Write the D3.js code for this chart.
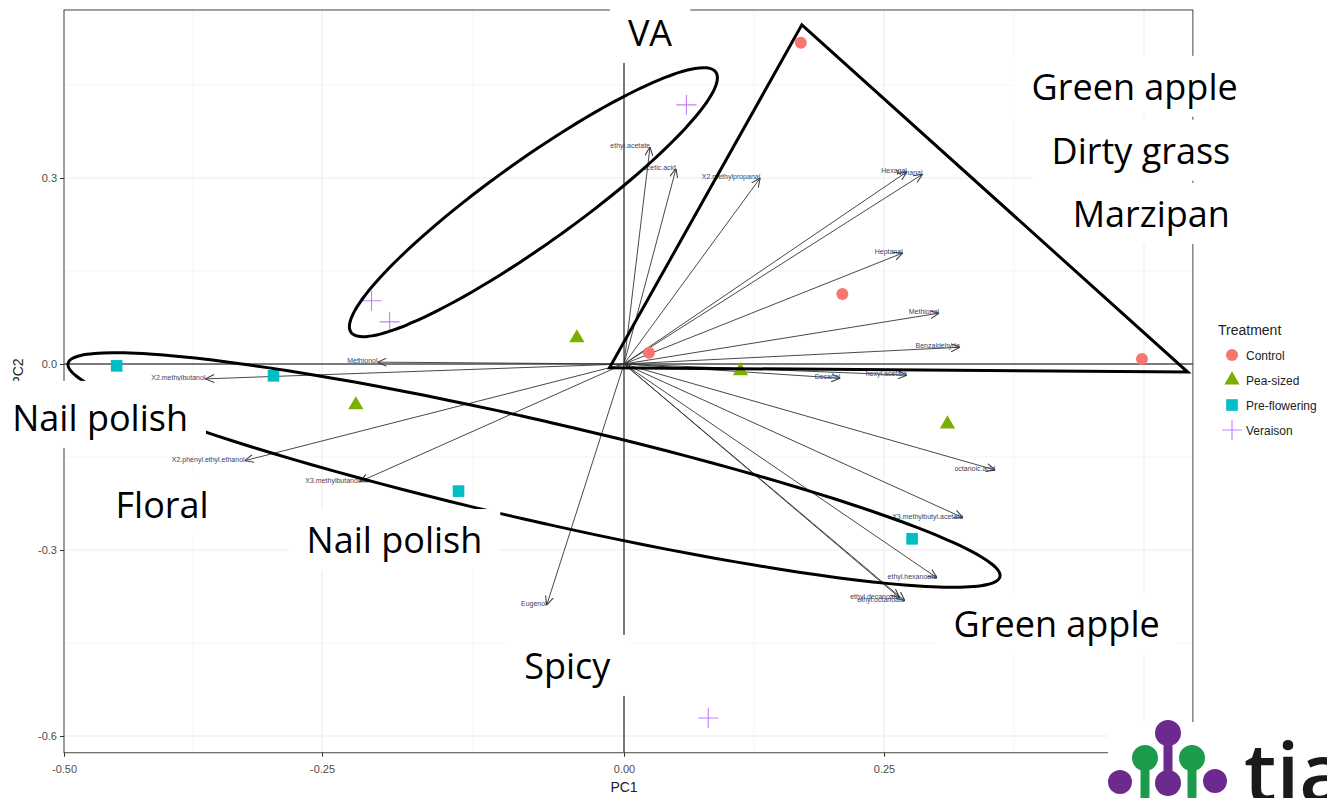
<!DOCTYPE html>
<html>
<head>
<meta charset="utf-8">
<script src="https://cdn.jsdelivr.net/npm/d3@7"></script>
<style>
body { margin: 0; background: #fff; }
svg { display: block; }
</style>
</head>
<body>
<div id="chart"></div>
<script>
// loadings (arrows)
var loadingNames = ["ethyl.acetate", "acetic.acid", "X2.methylpropanal", "Hexanal", "Nonanal",
    "Heptanal", "Methional", "Benzaldehyde", "hexyl.acetate", "Decanal", "octanoic.acid",
    "X3.methylbutyl.acetate", "ethyl.hexanoate", "ethyl.decanoate", "ethyl.octanoate",
    "Methionol", "X2.methylbutanol", "X2.phenyl.ethyl.ethanol", "X3.methylbutanol", "Eugenol"];
var loadingPC1 = [0.025, 0.050, 0.131, 0.272, 0.287, 0.268, 0.303, 0.323, 0.272, 0.208, 0.357,
    0.326, 0.301, 0.265, 0.270, -0.204, -0.363, -0.325, -0.219, -0.064];
var loadingPC2 = [0.350, 0.315, 0.300, 0.310, 0.306, 0.179, 0.082, 0.027, -0.018, -0.023, -0.171,
    -0.248, -0.345, -0.377, -0.382, 0.003, -0.024, -0.156, -0.190, -0.389];

// samples (scores)
var treatments = ["Control", "Pea-sized", "Pre-flowering", "Veraison"];
var sampleTreatment = ["Control", "Control", "Control", "Control",
    "Pea-sized", "Pea-sized", "Pea-sized", "Pea-sized",
    "Pre-flowering", "Pre-flowering", "Pre-flowering", "Pre-flowering",
    "Veraison", "Veraison", "Veraison", "Veraison"];
var samplePC1 = [0.170, 0.210, 0.024, 0.498, -0.039, 0.112, -0.222, 0.311,
    -0.449, -0.297, -0.137, 0.277, 0.060, -0.209, -0.194, 0.081];
var samplePC2 = [0.518, 0.113, 0.018, 0.008, 0.042, -0.011, -0.066, -0.097,
    -0.003, -0.019, -0.205, -0.282, 0.418, 0.102, 0.068, -0.571];

// axis ticks
var xTicks = [-0.5, -0.25, 0, 0.25, 0.5];
var xTickLabels = ["-0.50", "-0.25", "0.00", "0.25", "0.50"];
var xMinor = [-0.375, -0.125, 0.125, 0.375];
var yTicks = [-0.6, -0.3, 0, 0.3];
var yTickLabels = ["-0.6", "-0.3", "0.0", "0.3"];
var yMinor = [-0.45, -0.15, 0.15, 0.45];

// slide annotations
var noteText = ["VA", "Green apple", "Dirty grass", "Marzipan", "Nail polish", "Floral",
    "Nail polish", "Green apple", "Spicy"];
var notePC1 = [0.025, 0.491, 0.497, 0.507, -0.465, -0.405, -0.190, 0.416, -0.047];
var notePC2 = [0.534, 0.447, 0.344, 0.242, -0.087, -0.227, -0.284, -0.419, -0.487];
var trianglePC1 = [0.171, 0.542, -0.012];
var trianglePC2 = [0.547, -0.013, -0.006];

var colors = ["#F8766D", "#7CAE00", "#00BFC4", "#C77CFF"];

var svgWidth = 1327;
var svgHeight = 798;

// x axis of the slide is not evenly spaced, so map each break
var xScale = d3.scaleLinear()
    .domain(xTicks)
    .range([64, 322, 624, 884, 1144]);

var yScale = d3.scaleLinear()
    .domain([-0.6, 0.3])
    .range([736, 178]);

var colorScale = d3.scaleOrdinal().domain(treatments).range(colors);

var panel = { left: xScale(-0.5), right: xScale(0.547), top: yScale(0.571), bottom: yScale(-0.627) };

var svg = d3.select("#chart").append("svg")
    .attr("width", svgWidth)
    .attr("height", svgHeight)
    .style("font-family", "'Liberation Sans', Arial, sans-serif");

svg.append("defs").append("marker")
    .attr("id", "arrow")
    .attr("viewBox", "0 -5 10 10")
    .attr("refX", 10)
    .attr("refY", 0)
    .attr("markerWidth", 9)
    .attr("markerHeight", 9)
    .attr("markerUnits", "userSpaceOnUse")
    .attr("orient", "auto")
    .append("path")
    .attr("d", "M0,-4.5L10,0L0,4.5")
    .attr("fill", "none")
    .attr("stroke", "#333")
    .attr("stroke-width", 1.1);

// grid
svg.append("g").selectAll("line").data(xMinor).enter().append("line")
    .attr("x1", d => xScale(d)).attr("x2", d => xScale(d))
    .attr("y1", panel.top).attr("y2", panel.bottom)
    .attr("stroke", "#f2f2f2").attr("stroke-width", 0.8);
svg.append("g").selectAll("line").data(yMinor).enter().append("line")
    .attr("y1", d => yScale(d)).attr("y2", d => yScale(d))
    .attr("x1", panel.left).attr("x2", panel.right)
    .attr("stroke", "#f2f2f2").attr("stroke-width", 0.8);
svg.append("g").selectAll("line").data(xTicks).enter().append("line")
    .attr("x1", d => xScale(d)).attr("x2", d => xScale(d))
    .attr("y1", panel.top).attr("y2", panel.bottom)
    .attr("stroke", "#ebebeb").attr("stroke-width", 1.1);
svg.append("g").selectAll("line").data(yTicks).enter().append("line")
    .attr("y1", d => yScale(d)).attr("y2", d => yScale(d))
    .attr("x1", panel.left).attr("x2", panel.right)
    .attr("stroke", "#ebebeb").attr("stroke-width", 1.1);

// zero lines
svg.append("line")
    .attr("x1", xScale(0)).attr("x2", xScale(0))
    .attr("y1", panel.top).attr("y2", panel.bottom)
    .attr("stroke", "#000").attr("stroke-width", 1);
svg.append("line")
    .attr("x1", panel.left).attr("x2", panel.right)
    .attr("y1", yScale(0)).attr("y2", yScale(0))
    .attr("stroke", "#000").attr("stroke-width", 1);

// panel border
svg.append("rect")
    .attr("x", panel.left).attr("y", panel.top)
    .attr("width", panel.right - panel.left).attr("height", panel.bottom - panel.top)
    .attr("fill", "none").attr("stroke", "#444").attr("stroke-width", 1);

// axes
var xAxis = d3.axisBottom(xScale).tickValues(xTicks)
    .tickFormat((d, i) => xTickLabels[i]).tickSize(4).tickSizeOuter(0);
var yAxis = d3.axisLeft(yScale).tickValues(yTicks)
    .tickFormat((d, i) => yTickLabels[i]).tickSize(4).tickSizeOuter(0);

var gx = svg.append("g")
    .attr("transform", "translate(0," + panel.bottom + ")")
    .call(xAxis);
var gy = svg.append("g")
    .attr("transform", "translate(" + panel.left + ",0)")
    .call(yAxis);
[gx, gy].forEach(g => {
    g.select(".domain").remove();
    g.selectAll(".tick line").attr("stroke", "#333");
    g.selectAll(".tick text").attr("fill", "#4d4d4d").attr("font-size", "11px")
        .attr("font-family", "'Liberation Sans', Arial, sans-serif");
});
gx.selectAll(".tick text").attr("dy", "1.2em");

svg.append("text")
    .attr("x", xScale(0)).attr("y", 792)
    .attr("text-anchor", "middle").attr("font-size", "14px").attr("fill", "#222")
    .text("PC1");
svg.append("text")
    .attr("transform", "translate(23,372) rotate(-90)")
    .attr("text-anchor", "middle").attr("font-size", "14px").attr("fill", "#222")
    .text("PC2");

// arrows
var arrows = svg.append("g");
loadingNames.forEach((name, i) => {
    arrows.append("line")
        .attr("x1", xScale(0)).attr("y1", yScale(0))
        .attr("x2", xScale(loadingPC1[i])).attr("y2", yScale(loadingPC2[i]))
        .attr("stroke", "#333").attr("stroke-width", 0.9)
        .attr("marker-end", "url(#arrow)");
    arrows.append("text")
        .attr("x", xScale(loadingPC1[i])).attr("y", yScale(loadingPC2[i]) + 1)
        .attr("text-anchor", "end")
        .attr("font-size", "7px")
        .attr("fill", "#3d4466")
        .text(name);
});

// sample points
function drawSymbol(g, treatment, cx, cy) {
    var c = colorScale(treatment);
    if (treatment === "Control") {
        g.append("circle").attr("cx", cx).attr("cy", cy).attr("r", 6).attr("fill", c);
    } else if (treatment === "Pea-sized") {
        g.append("path").attr("transform", "translate(" + cx + "," + cy + ")")
            .attr("d", d3.symbol(d3.symbolTriangle, 100)()).attr("fill", c);
    } else if (treatment === "Pre-flowering") {
        g.append("path").attr("transform", "translate(" + cx + "," + cy + ")")
            .attr("d", d3.symbol(d3.symbolSquare, 135)()).attr("fill", c);
    } else {
        g.append("path").attr("transform", "translate(" + cx + "," + cy + ")")
            .attr("d", "M-10,0H10M0,-10V10").attr("stroke", c).attr("stroke-width", 1.1);
    }
}
var points = svg.append("g");
sampleTreatment.forEach((t, i) => drawSymbol(points, t, xScale(samplePC1[i]), yScale(samplePC2[i])));

// legend
var legend = svg.append("g");
legend.append("text").attr("x", 1218).attr("y", 335)
    .attr("font-size", "14px").attr("fill", "#222").text("Treatment");
treatments.forEach((t, i) => {
    var ly = 355 + i * 25;
    drawSymbol(legend, t, 1232, ly);
    legend.append("text").attr("x", 1246).attr("y", ly + 4.5)
        .attr("font-size", "12px").attr("fill", "#222").text(t);
});

// hand-drawn ellipses
function ellipsePath(cx, cy, a, b, deg) {
    var r = deg * Math.PI / 180;
    var pts = d3.range(0, 360, 3).map(t => {
        var u = t * Math.PI / 180;
        var ex = a * Math.cos(u), ey = b * Math.sin(u);
        return [cx + ex * Math.cos(r) - ey * Math.sin(r), cy + ex * Math.sin(r) + ey * Math.cos(r)];
    });
    return d3.line().curve(d3.curveCardinalClosed)(pts);
}
var shapes = svg.append("g").attr("fill", "none").attr("stroke", "#000").attr("stroke-width", 3);
shapes.append("path").attr("d", ellipsePath(xScale(-0.075), yScale(0.261), 224, 42, -35.5));
shapes.append("path").attr("d", ellipsePath(xScale(-0.0745), yScale(-0.171), 478, 50, 12.9));

// text boxes
var notes = svg.append("g");
noteText.forEach((t, i) => {
    var g = notes.append("g");
    var txt = g.append("text")
        .attr("x", xScale(notePC1[i])).attr("y", yScale(notePC2[i]))
        .attr("dy", "0.36em")
        .attr("text-anchor", "middle")
        .attr("font-family", "'Open Sans', 'Noto Sans', sans-serif")
        .attr("font-size", "36px")
        .attr("fill", "#000")
        .text(t);
    var bb = txt.node().getBBox();
    var padTop = i === 4 ? 12 : 6;
    g.insert("rect", "text")
        .attr("x", bb.x - 18).attr("y", bb.y - padTop)
        .attr("width", bb.width + 36).attr("height", bb.height + padTop + 6)
        .attr("fill", "#fff");
});

// triangle
var triPts = trianglePC1.map((d, i) => [xScale(d), yScale(trianglePC2[i])]);
svg.append("path")
    .attr("d", d3.line().curve(d3.curveLinearClosed)(triPts))
    .attr("fill", "none").attr("stroke", "#000").attr("stroke-width", 3)
    .attr("stroke-linejoin", "miter");

// logo
var logo = svg.append("g");
logo.append("rect").attr("x", 1108).attr("y", 722).attr("width", 219).attr("height", 76).attr("fill", "#fff");
var purple = "#6d2a8e", green = "#1a9c4a";
logo.append("line").attr("x1", 1168).attr("y1", 733).attr("x2", 1168).attr("y2", 782)
    .attr("stroke", purple).attr("stroke-width", 9);
logo.append("line").attr("x1", 1145).attr("y1", 758).attr("x2", 1145).attr("y2", 798)
    .attr("stroke", green).attr("stroke-width", 9);
logo.append("line").attr("x1", 1192).attr("y1", 758).attr("x2", 1192).attr("y2", 798)
    .attr("stroke", green).attr("stroke-width", 9);
[[1145, 758, 13, green], [1192, 758, 13, green], [1168, 733, 13, purple],
 [1120, 782, 12, purple], [1168, 783, 13, purple], [1215, 781, 12, purple]].forEach(c => {
    logo.append("circle").attr("cx", c[0]).attr("cy", c[1]).attr("r", c[2]).attr("fill", c[3]);
});
logo.append("text").attr("x", 1244).attr("y", 802)
    .attr("font-family", "'Open Sans', sans-serif").attr("font-weight", 600)
    .attr("font-size", "82px").attr("fill", "#1a1a1a").text("tia");
</script>
</body>
</html>
